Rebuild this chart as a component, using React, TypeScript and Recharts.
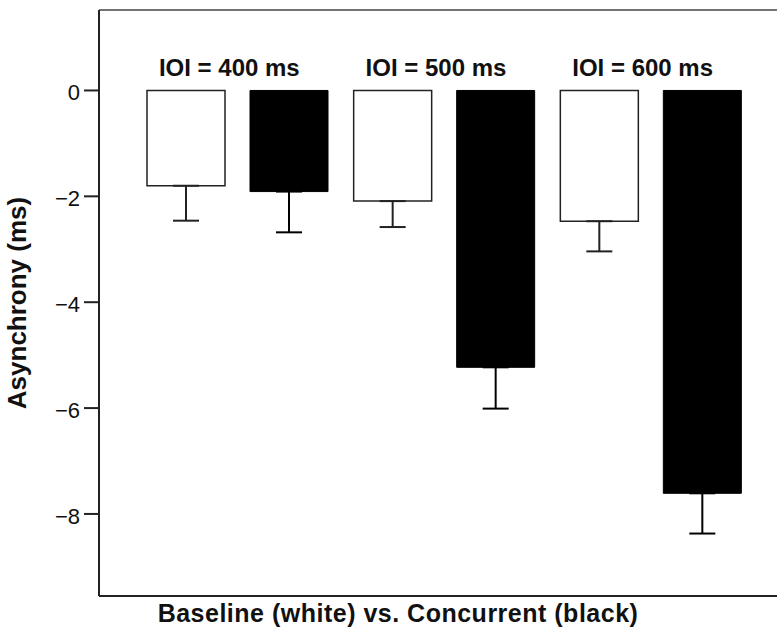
import { BarChart, Bar, XAxis, YAxis, ErrorBar, ReferenceLine } from "recharts";

const FONT = "'Liberation Sans', Arial, Helvetica, sans-serif";

// one category per IOI; white = baseline, black = concurrent
const conditions = ["IOI = 400 ms", "IOI = 500 ms", "IOI = 600 ms"];
const baseline = [-1.8, -2.09, -2.47];
const baselineErr = [0.66, 0.49, 0.57];
const concurrent = [-1.91, -5.23, -7.61];
const concurrentErr = [0.77, 0.78, 0.76];
const yTicks = [0, -2, -4, -6, -8];

const Y_MIN = -9.55;
const Y_MAX = 1.52;

// error bars only drawn downward (the upper half is hidden by the bar)
const data = conditions.map((ioi, i) => ({
  ioi,
  baseline: baseline[i],
  baselineErr: [baselineErr[i], 0],
  concurrent: concurrent[i],
  concurrentErr: [concurrentErr[i], 0],
}));

function IoiTick({ x, payload }: any) {
  return (
    <text
      x={x - 8}
      y={76}
      textAnchor="middle"
      fontFamily={FONT}
      fontWeight="bold"
      fontSize={24}
      fill="#111"
    >
      {payload.value}
    </text>
  );
}

export default function App() {
  return (
    <div
      style={{
        position: "fixed",
        left: 0,
        top: 0,
        width: 777,
        height: 630,
        overflow: "hidden",
        background: "#fff",
      }}
    >
      <BarChart
        width={800}
        height={630}
        data={data}
        margin={{ top: 10, right: 11, left: 0, bottom: 0 }}
        barSize={78}
        barGap={25}
      >
        <XAxis
          dataKey="ioi"
          height={34}
          padding={{ left: 35, right: 35 }}
          axisLine={{ stroke: "#222", strokeWidth: 2 }}
          tickLine={false}
          interval={0}
          tick={<IoiTick />}
          label={{
            value: "Baseline (white) vs. Concurrent (black)",
            position: "insideBottom",
            offset: 8,
            dx: -46,
            style: {
              fontFamily: FONT,
              fontWeight: "bold",
              fontSize: 25,
              letterSpacing: 0.5,
              fill: "#111",
            },
          }}
        />
        <YAxis
          width={99}
          domain={[Y_MIN, Y_MAX]}
          ticks={yTicks}
          allowDataOverflow
          axisLine={{ stroke: "#222", strokeWidth: 2 }}
          tickLine={{ stroke: "#222", strokeWidth: 2 }}
          tickSize={15}
          tickMargin={4}
          tickFormatter={(v: number) => String(v).replace("-", "\u2212")}
          tick={{ fill: "#111", fontSize: 22, fontFamily: FONT, dy: 2 }}
          label={{
            value: "Asynchrony (ms)",
            angle: -90,
            position: "insideLeft",
            offset: 17,
            style: {
              textAnchor: "middle",
              fontFamily: FONT,
              fontWeight: "bold",
              fontSize: 26,
              fill: "#111",
            },
          }}
        />
        <ReferenceLine y={Y_MAX} stroke="#444" strokeWidth={1.5} />
        <Bar
          dataKey="baseline"
          fill="#fff"
          stroke="#222"
          strokeWidth={1.5}
          isAnimationActive={false}
        >
          <ErrorBar
            dataKey="baselineErr"
            direction="y"
            width={13}
            stroke="#222"
            strokeWidth={2}
            isAnimationActive={false}
          />
        </Bar>
        <Bar
          dataKey="concurrent"
          fill="#000"
          stroke="#000"
          strokeWidth={1}
          isAnimationActive={false}
        >
          <ErrorBar
            dataKey="concurrentErr"
            direction="y"
            width={13}
            stroke="#000"
            strokeWidth={2}
            isAnimationActive={false}
          />
        </Bar>
      </BarChart>
    </div>
  );
}
